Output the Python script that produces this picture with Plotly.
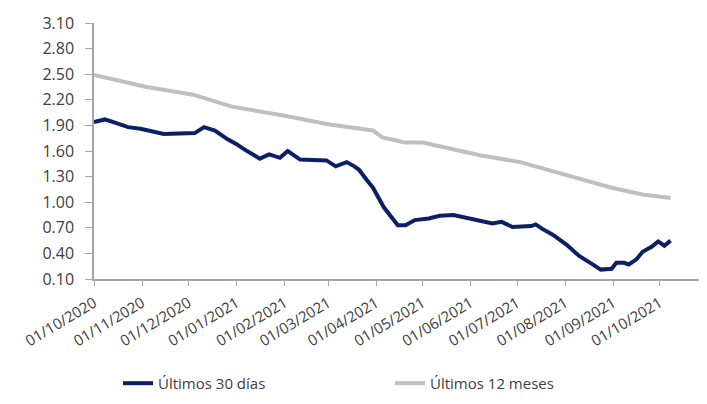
import plotly.graph_objects as go

# Series: Últimos 30 días
dates_30 = ["2020-10-01", "2020-10-08", "2020-10-15", "2020-10-23", "2020-10-31", "2020-11-05",
            "2020-11-11", "2020-11-15", "2020-12-05", "2020-12-11", "2020-12-18", "2020-12-26",
            "2021-01-01", "2021-01-05", "2021-01-16", "2021-01-22", "2021-01-29", "2021-02-03",
            "2021-02-11", "2021-02-17", "2021-02-28", "2021-03-06", "2021-03-13", "2021-03-18",
            "2021-03-21", "2021-03-26", "2021-03-30", "2021-04-06", "2021-04-15", "2021-04-20",
            "2021-04-26", "2021-05-05", "2021-05-12", "2021-05-21", "2021-05-31", "2021-06-08",
            "2021-06-15", "2021-06-21", "2021-06-26", "2021-06-28", "2021-07-10", "2021-07-13",
            "2021-07-17", "2021-07-24", "2021-08-02", "2021-08-10", "2021-08-18", "2021-08-24",
            "2021-08-31", "2021-09-03", "2021-09-08", "2021-09-11", "2021-09-16", "2021-09-20",
            "2021-09-26", "2021-09-30", "2021-10-04", "2021-10-08"]
values_30 = [1.94, 1.97, 1.93, 1.88, 1.86, 1.84,
             1.81, 1.80, 1.81, 1.88, 1.84, 1.74,
             1.68, 1.63, 1.51, 1.56, 1.52, 1.60,
             1.50, 1.50, 1.49, 1.42, 1.47, 1.42,
             1.38, 1.26, 1.17, 0.94, 0.73, 0.73,
             0.79, 0.81, 0.84, 0.85, 0.81, 0.79,
             0.75, 0.77, 0.73, 0.71, 0.72, 0.74,
             0.69, 0.62, 0.50, 0.37, 0.28, 0.21,
             0.22, 0.29, 0.29, 0.27, 0.33, 0.42,
             0.48, 0.54, 0.49, 0.55]

# Series: Últimos 12 meses
dates_12 = ["2020-10-01", "2020-11-04", "2020-12-04", "2020-12-29", "2021-02-02", "2021-03-02",
            "2021-03-30", "2021-04-05", "2021-04-15", "2021-04-19", "2021-05-01", "2021-06-07",
            "2021-07-03", "2021-08-02", "2021-08-31", "2021-09-20", "2021-10-08"]
values_12 = [2.49, 2.35, 2.26, 2.12, 2.01, 1.91,
             1.84, 1.76, 1.72, 1.70, 1.70, 1.55,
             1.47, 1.32, 1.17, 1.09, 1.05]

tick_dates = ["2020-10-01", "2020-11-01", "2020-12-01", "2021-01-01", "2021-02-01", "2021-03-01",
              "2021-04-01", "2021-05-01", "2021-06-01", "2021-07-01", "2021-08-01", "2021-09-01",
              "2021-10-01"]
tick_labels = ["01/10/2020", "01/11/2020", "01/12/2020", "01/01/2021", "01/02/2021", "01/03/2021",
               "01/04/2021", "01/05/2021", "01/06/2021", "01/07/2021", "01/08/2021", "01/09/2021",
               "01/10/2021"]
y_ticks = [0.10, 0.40, 0.70, 1.00, 1.30, 1.60, 1.90, 2.20, 2.50, 2.80, 3.10]

FONT = "Open Sans"
TXT = "#404040"

fig = go.Figure()
fig.add_trace(go.Scatter(x=dates_30, y=values_30, mode="lines", name="Últimos 30 días",
                         line=dict(color="#0b1f66", width=4), legend="legend"))
fig.add_trace(go.Scatter(x=dates_12, y=values_12, mode="lines", name="Últimos 12 meses",
                         line=dict(color="#bfbfbf", width=4), legend="legend2"))

leg_common = dict(orientation="h", yanchor="middle", y=-0.408, xanchor="left",
                  font=dict(family=FONT, size=15, color=TXT), bgcolor="rgba(0,0,0,0)")

fig.update_layout(
    width=707, height=404,
    margin=dict(l=86, r=15, t=15, b=127),
    paper_bgcolor="white", plot_bgcolor="white",
    font=dict(family=FONT, size=15, color=TXT),
    showlegend=True,
    legend=dict(x=(110 - 86) / 606, **leg_common),
    legend2=dict(x=(382 - 86) / 606, **leg_common),
)
fig.update_xaxes(
    type="date", range=["2020-10-01", "2021-10-27"],
    tickmode="array", tickvals=tick_dates, ticktext=tick_labels, tickangle=-31,
    showline=True, linecolor="#a6a6a6", linewidth=1.5,
    ticks="outside", ticklen=5, tickcolor="#a6a6a6",
    showgrid=False, zeroline=False, automargin=False, ticklabelstandoff=3,
    tickfont=dict(family=FONT, size=15, color=TXT),
)
fig.update_yaxes(
    range=[0.10, 3.10], tickmode="array", tickvals=y_ticks,
    ticktext=[f"{v:.2f}" for v in y_ticks],
    showline=True, linecolor="#a6a6a6", linewidth=1.5,
    ticks="outside", ticklen=7, tickcolor="#a6a6a6",
    showgrid=False, zeroline=False, automargin=False, ticklabelstandoff=8,
    tickfont=dict(family=FONT, size=16, color=TXT),
)

fig.write_html("out.html")
